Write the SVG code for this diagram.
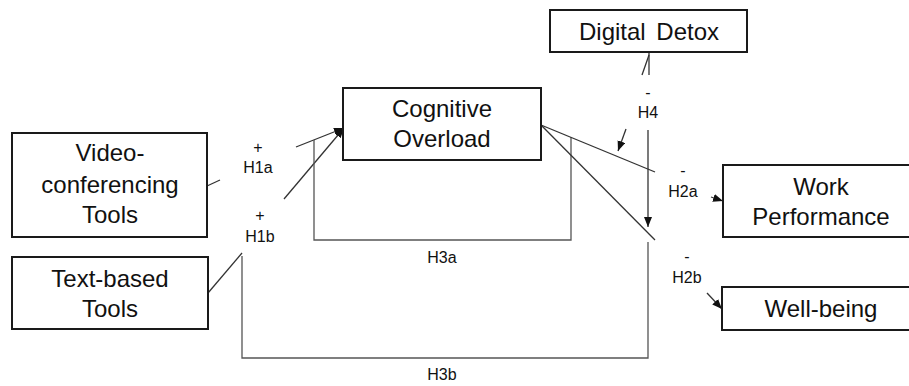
<svg xmlns="http://www.w3.org/2000/svg" width="909" height="386" viewBox="0 0 909 386">
<style>
.box{fill:#fff;stroke:#1a1a1a;stroke-width:2}
.t{font-family:"Liberation Sans",Arial,sans-serif;font-size:24px;fill:#111;text-anchor:middle}
.l{font-family:"Liberation Sans",Arial,sans-serif;font-size:16px;fill:#111;text-anchor:middle}
.c{fill:none;stroke:#333;stroke-width:1.3}
.g{fill:none;stroke:#555;stroke-width:1.3}
</style>
<defs>
<marker id="ah" markerUnits="userSpaceOnUse" markerWidth="11" markerHeight="9" refX="10" refY="4" orient="auto">
<path d="M0,0 L10,4 L0,8 z" fill="#111"/>
</marker>
</defs>
<rect width="909" height="386" fill="#fff"/>
<g id="connectors">
<line class="c" x1="207" y1="186" x2="220" y2="180"/>
<line class="c" x1="296" y1="147" x2="344" y2="128" marker-end="url(#ah)"/>
<line class="c" x1="284" y1="199" x2="344" y2="128" marker-end="url(#ah)"/>
<line class="c" x1="208" y1="293" x2="242" y2="253"/>
<polyline class="g" points="314,140 314,240 571,240 571,137"/>
<polyline class="g" points="242,256 242,358 648,358 648,242"/>
<line class="c" x1="541" y1="125" x2="655" y2="172"/>
<line class="c" x1="541" y1="125" x2="655" y2="240"/>
<line class="c" x1="711" y1="197" x2="723" y2="201" marker-end="url(#ah)"/>
<line class="c" x1="707" y1="293" x2="722" y2="309" marker-end="url(#ah)"/>
<line class="c" x1="649" y1="52" x2="649" y2="75"/>
<line class="c" x1="649" y1="55" x2="642" y2="75"/>
<line class="c" x1="648" y1="130" x2="648" y2="227" marker-end="url(#ah)"/>
<line class="c" x1="626" y1="129" x2="618" y2="151" marker-end="url(#ah)"/>
</g>
<g id="labels">
<text class="l" x="258" y="153">+</text>
<text class="l" x="258" y="173">H1a</text>
<text class="l" x="260" y="221">+</text>
<text class="l" x="260" y="242">H1b</text>
<text class="l" x="648" y="98">-</text>
<text class="l" x="648" y="118">H4</text>
<text class="l" x="683" y="176">-</text>
<text class="l" x="683" y="197">H2a</text>
<text class="l" x="687" y="262">-</text>
<text class="l" x="687" y="283">H2b</text>
<text class="l" x="442" y="263">H3a</text>
<text class="l" x="442" y="380">H3b</text>
</g>
<g id="node-digital-detox">
<rect class="box" x="550" y="10" width="197" height="42"/>
<text class="t" x="649" y="40" style="word-spacing:4px">Digital Detox</text>
</g>
<g id="node-cognitive-overload">
<rect class="box" x="343" y="88" width="198" height="72"/>
<text class="t" x="442" y="117">Cognitive</text>
<text class="t" x="442" y="147">Overload</text>
</g>
<g id="node-video">
<rect class="box" x="12" y="133" width="195" height="104"/>
<text class="t" x="110" y="161">Video-</text>
<text class="t" x="110" y="193">conferencing</text>
<text class="t" x="110" y="223">Tools</text>
</g>
<g id="node-text">
<rect class="box" x="12" y="257" width="196" height="72"/>
<text class="t" x="110" y="287">Text-based</text>
<text class="t" x="110" y="317">Tools</text>
</g>
<g id="node-work">
<rect class="box" x="723" y="165" width="190" height="72"/>
<text class="t" x="821" y="195">Work</text>
<text class="t" x="821" y="225">Performance</text>
</g>
<g id="node-wellbeing">
<rect class="box" x="722" y="287" width="191" height="43"/>
<text class="t" x="821" y="317">Well-being</text>
</g>
</svg>
